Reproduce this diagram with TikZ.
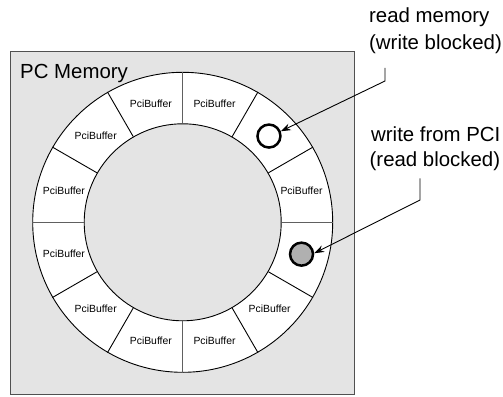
\documentclass[tikz,border=0pt]{standalone}
\usepackage{fontspec}
\setmainfont{Liberation Sans}
\usetikzlibrary{arrows.meta,calc}
\definecolor{boxgray}{HTML}{E4E4E4}
\definecolor{dotgray}{HTML}{B0B0B0}
\definecolor{edgegray}{HTML}{505050}
\definecolor{axisgray}{HTML}{606060}
\begin{document}
\begin{tikzpicture}[x=1pt,y=-1pt,
  memframe/.style={draw=edgegray, line width=1.2pt, fill=boxgray, rectangle, inner sep=0pt, outer sep=0pt},
  ringdisk/.style={circle, draw=black, line width=0.9pt, inner sep=0pt},
  buf/.style={font=\fontsize{10.4}{12}\selectfont, inner sep=0pt},
  big/.style={font=\fontsize{20.4}{24}\selectfont, inner sep=0pt, anchor=base west},
  marker/.style={circle, draw=black, line width=2.5pt, minimum size=23pt, inner sep=0pt},
  callout/.style={draw=black, line width=0.9pt},
  arr/.style={callout, -{Stealth[length=10pt,width=7pt]}}]
\useasboundingbox (0,0) rectangle (503,396);
\node[memframe, minimum width=343.4pt, minimum height=342.6pt] (mem) at (182.5,222.9) {};
\node[big] (title) at (20,78.3) {PC Memory};
\node[ringdisk, fill=white, minimum size=300pt] (ring) at (182.7,222.3) {};
\node[ringdisk, fill=boxgray, minimum size=197pt] (core) at (182.7,222.3) {};
\foreach \a in {30,60,120,150,210,240,300,330}
  \draw[line width=0.9pt] (ring.\a) -- (core.\a);
\foreach \a in {0,90,180,270}
  \draw[line width=1.3pt, draw=axisgray] (ring.\a) -- (core.\a);
\foreach \a in {15,75,105,135,165,195,225,255,285,315}
  \node[buf] (b\a) at ($(ring.center)+(\a:123pt)$) {PciBuffer};
\node[marker, fill=white] (wc) at ($(ring.center)+(45:122pt)$) {};
\node[marker, fill=dotgray] (gc) at ($(ring.center)+(-15:123pt)$) {};
\node[big] (rm1) at (369,22.7) {read memory};
\node[big] (rm2) at (369,49.3) {(write blocked)};
\node[big] (wp1) at (371,141.5) {write from PCI};
\node[big] (wp2) at (369.5,166) {(read blocked)};
\coordinate (k1a) at (385,68);
\coordinate (k1b) at (385,81);
\coordinate (k2a) at (420,178.3);
\coordinate (k2b) at (420,200);
\draw[arr] (k1a) -- (k1b) -- (wc.22);
\draw[arr] (k2a) -- (k2b) -- (gc.4);
\end{tikzpicture}
\end{document}
